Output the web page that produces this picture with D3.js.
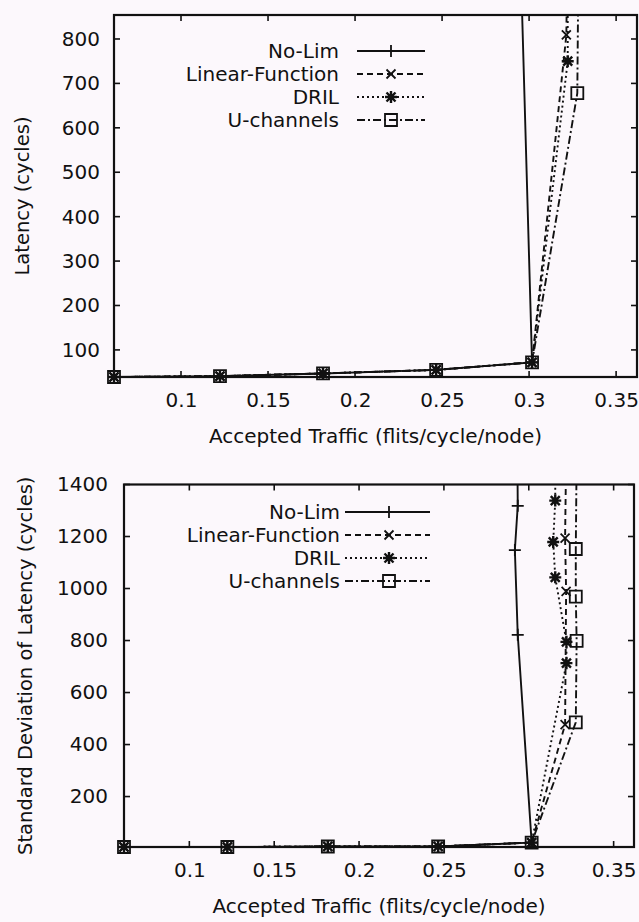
<!DOCTYPE html>
<html>
<head>
<meta charset="utf-8">
<script src="https://cdn.jsdelivr.net/npm/d3@7"></script>
<style>
  html, body { margin: 0; padding: 0; background: #fcf8fc; }
  svg { display: block; }
  text { font-family: "DejaVu Sans", sans-serif; fill: #111; }
</style>
</head>
<body>
<svg id="chart" width="639" height="922"></svg>
<script>
// ---------------- data ----------------
const seriesNames = ["No-Lim", "Linear-Function", "DRIL", "U-channels"];

// low-load points (shared by all four mechanisms)
const lowTraffic = [0.0615, 0.1224, 0.1816, 0.2466, 0.3017];
const lowLatency = [39, 41, 47, 55, 72];
const lowStdDev  = [6, 6, 8, 8, 23];

// saturation points
const noLimTraffic  = [0.2935, 0.2918, 0.2935, 0.2932];
const noLimLatency  = [1200, 1400, 1600, 1800];
const noLimStdDev   = [822, 1148, 1318, 1600];

const linearTraffic = [0.3214, 0.3220, 0.3214, 0.3220];
const linearLatency = [809, 1000, 1200, 1400];
const linearStdDev  = [477, 989, 1194, 1500];

const drilTraffic   = [0.3222, 0.3222, 0.3156, 0.3144, 0.3156, 0.3156];
const drilLatency   = [750, 900, 1000, 1100, 1200, 1300];
const drilStdDev    = [713, 795, 1043, 1179, 1338, 1500];

const uchTraffic    = [0.3277, 0.3282, 0.3277, 0.3277, 0.3282];
const uchLatency    = [678, 900, 1000, 1100, 1200];
const uchStdDev     = [485, 799, 969, 1152, 1500];

const xTicks       = [0.1, 0.15, 0.2, 0.25, 0.3, 0.35];
const latencyTicks = [100, 200, 300, 400, 500, 600, 700, 800];
const stdDevTicks  = [200, 400, 600, 800, 1000, 1200, 1400];

const xLabel = "Accepted Traffic (flits/cycle/node)";
const latencyLabel = "Latency (cycles)";
const stdDevLabel = "Standard Deviation of Latency (cycles)";

// ---------------- build series ----------------
function build(tr, lat, sd) {
  const t = lowTraffic.concat(tr), l = lowLatency.concat(lat), s = lowStdDev.concat(sd);
  return t.map((x, i) => ({ x: x, latency: l[i], sd: s[i] }));
}
const seriesData = [
  build(noLimTraffic, noLimLatency, noLimStdDev),
  build(linearTraffic, linearLatency, linearStdDev),
  build(drilTraffic, drilLatency, drilStdDev),
  build(uchTraffic, uchLatency, uchStdDev)
];

const dashes = [null, "6,4", "2,3", "8,3,2,3"];
const markers = ["plus", "cross", "star", "square"];

const svg = d3.select("#chart");
const ink = "#111";
const lw = 1.9;

function markerPath(type, cx, cy) {
  const p = d3.path();
  if (type === "plus" || type === "star") {
    const r = 6;
    p.moveTo(cx - r, cy); p.lineTo(cx + r, cy);
    p.moveTo(cx, cy - r); p.lineTo(cx, cy + r);
  }
  if (type === "cross" || type === "star") {
    const r = 4.5;
    p.moveTo(cx - r, cy - r); p.lineTo(cx + r, cy + r);
    p.moveTo(cx - r, cy + r); p.lineTo(cx + r, cy - r);
  }
  if (type === "square") {
    const r = 6;
    p.rect(cx - r, cy - r, 2 * r, 2 * r);
  }
  return p.toString();
}

function drawChart(cfg) {
  const { left, right, top, bottom, yDomain, yTicks, key, yTitle, yTitleX, id, legendRows, legendText, sampleX0, sampleX1, markerX, tickGap } = cfg;
  const x = d3.scaleLinear().domain([0.0615, 0.362]).range([left, right]);
  const y = d3.scaleLinear().domain(yDomain).range([bottom, top]);
  const g = svg.append("g");

  g.append("clipPath").attr("id", id).append("rect")
    .attr("x", left).attr("y", top).attr("width", right - left).attr("height", bottom - top);

  const tl = 6;
  const axL = g.append("g").attr("transform", `translate(${left},0)`)
    .call(d3.axisLeft(y).tickValues(yTicks).tickSize(0).tickPadding(tickGap).tickFormat(d3.format("d")));
  const axB = g.append("g").attr("transform", `translate(0,${bottom})`)
    .call(d3.axisBottom(x).tickValues(xTicks).tickSize(0).tickPadding(16).tickFormat(d => String(d)));
  [axL, axB].forEach(a => {
    a.select(".domain").remove();
    a.selectAll("text").attr("font-size", 20).attr("fill", ink)
      .attr("font-family", "DejaVu Sans, sans-serif");
  });
  yTicks.forEach(v => {
    g.append("line").attr("x1", left).attr("x2", left + tl).attr("y1", y(v)).attr("y2", y(v)).attr("stroke", ink).attr("stroke-width", 1.6);
    g.append("line").attr("x1", right).attr("x2", right - tl).attr("y1", y(v)).attr("y2", y(v)).attr("stroke", ink).attr("stroke-width", 1.6);
  });
  xTicks.forEach(v => {
    g.append("line").attr("x1", x(v)).attr("x2", x(v)).attr("y1", bottom).attr("y2", bottom - tl).attr("stroke", ink).attr("stroke-width", 1.6);
    g.append("line").attr("x1", x(v)).attr("x2", x(v)).attr("y1", top).attr("y2", top + tl).attr("stroke", ink).attr("stroke-width", 1.6);
  });

  g.append("rect").attr("x", left).attr("y", top).attr("width", right - left).attr("height", bottom - top)
    .attr("fill", "none").attr("stroke", ink).attr("stroke-width", 2.2);

  g.append("text").attr("x", (left + right) / 2).attr("y", bottom + 59)
    .attr("text-anchor", "middle").attr("dominant-baseline", "central").attr("font-size", 20).text(xLabel);
  g.append("text").attr("transform", `translate(${yTitleX},${(top + bottom) / 2}) rotate(-90)`)
    .attr("text-anchor", "middle").attr("dominant-baseline", "central").attr("font-size", 19.5).text(yTitle);

  const line = d3.line().x(d => x(d.x)).y(d => y(d[key]));
  const plot = g.append("g").attr("clip-path", `url(#${id})`);
  const pts = g.append("g");
  seriesData.forEach((data, i) => {
    plot.append("path").attr("d", line(data)).attr("fill", "none").attr("stroke", ink)
      .attr("stroke-width", lw).attr("stroke-dasharray", dashes[i]);
    data.filter(d => d[key] >= yDomain[0] - 1 && d[key] <= yDomain[1]).forEach(d => {
      pts.append("path").attr("d", markerPath(markers[i], x(d.x), y(d[key])))
        .attr("fill", "none").attr("stroke", ink).attr("stroke-width", markers[i] === "star" ? 2.4 : 1.8);
    });
  });

  seriesNames.forEach((name, i) => {
    const ly = legendRows[i];
    g.append("text").attr("x", legendText).attr("y", ly).attr("text-anchor", "end")
      .attr("dominant-baseline", "central").attr("font-size", 20).text(name);
    g.append("line").attr("x1", sampleX0).attr("x2", sampleX1).attr("y1", ly).attr("y2", ly)
      .attr("stroke", ink).attr("stroke-width", lw).attr("stroke-dasharray", dashes[i]);
    g.append("path").attr("d", markerPath(markers[i], markerX, ly)).attr("fill", "none")
      .attr("stroke", ink).attr("stroke-width", markers[i] === "star" ? 2.4 : 1.8);
  });
}

drawChart({
  id: "clipTop", left: 114, right: 637, top: 15, bottom: 377,
  yDomain: [39, 854], yTicks: latencyTicks, key: "latency",
  yTitle: latencyLabel, yTitleX: 22, tickGap: 14,
  legendRows: [51, 74, 97, 120], legendText: 339, sampleX0: 357, sampleX1: 425, markerX: 391
});

drawChart({
  id: "clipBottom", left: 124, right: 634, top: 484.5, bottom: 847,
  yDomain: [6, 1400], yTicks: stdDevTicks, key: "sd",
  yTitle: stdDevLabel, yTitleX: 25, tickGap: 16,
  legendRows: [512, 535, 558, 581], legendText: 340, sampleX0: 345, sampleX1: 430, markerX: 389
});
</script>
</body>
</html>
